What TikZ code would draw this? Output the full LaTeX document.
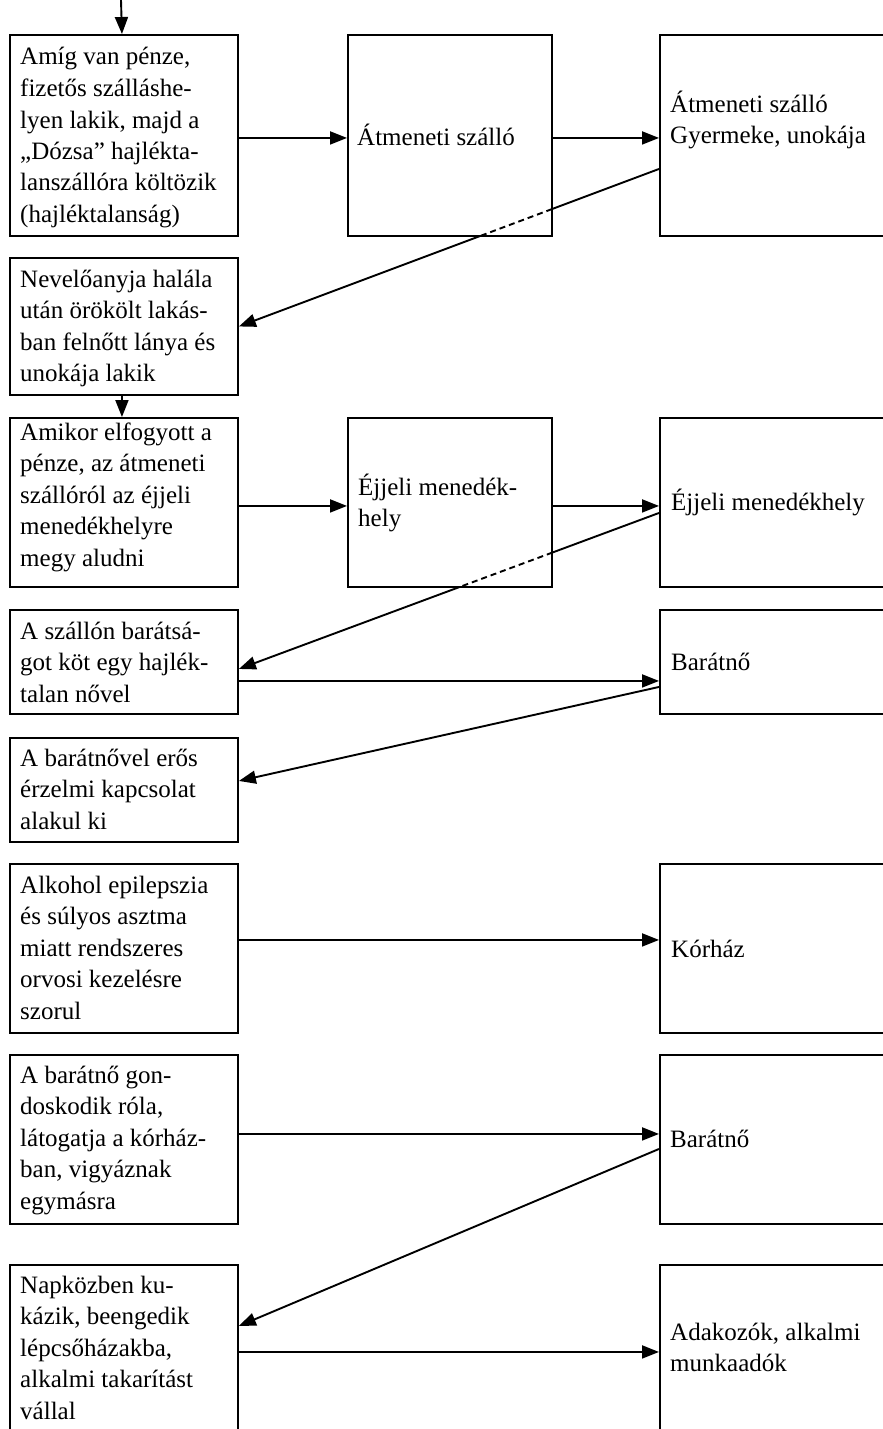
\documentclass[tikz,border=0pt]{standalone}
\usepackage{fontspec}
\setmainfont{Liberation Serif}
\usetikzlibrary{arrows.meta,calc}
% cell text: first baseline sits at the node's base anchor
\newcommand\celltext[1]{\parbox[t]{210pt}{\raggedright #1}}
\begin{document}
\begin{tikzpicture}[x=1pt,y=-1pt,
  box/.style={draw, line width=1.9pt, rectangle, anchor=north west, inner sep=0pt},
  lbox/.style={box, minimum width=228pt},
  mbox/.style={box, minimum width=204pt},
  rbox/.style={box, minimum width=260pt},
  txt/.style={anchor=base west, inner sep=0pt, font=\fontsize{25}{31.5}\selectfont},
  link/.style={line width=1.9pt},
  hidden/.style={link, dash pattern=on 6pt off 4pt},
  arr/.style={link, -{Triangle[length=17pt,width=13pt]}}
]
\useasboundingbox (0,0) rectangle (883,1429);
\clip (0,0) rectangle (883,1429);

% ---- boxes ----
\node[lbox, minimum height=201pt] (b1) at (9,34) {};
\node[mbox, minimum height=201pt] (m1) at (347,34) {};
\node[rbox, minimum height=201pt] (r1) at (659,34) {};
\node[lbox, minimum height=137pt] (b2) at (9,257) {};
\node[lbox, minimum height=169pt] (b3) at (9,417) {};
\node[mbox, minimum height=169pt] (m2) at (347,417) {};
\node[rbox, minimum height=169pt] (r2) at (659,417) {};
\node[lbox, minimum height=104pt] (b4) at (9,609) {};
\node[rbox, minimum height=104pt] (r3) at (659,609) {};
\node[lbox, minimum height=104pt] (b5) at (9,737) {};
\node[lbox, minimum height=169pt] (b6) at (9,863) {};
\node[rbox, minimum height=169pt] (r4) at (659,863) {};
\node[lbox, minimum height=169pt] (b7) at (9,1054) {};
\node[rbox, minimum height=169pt] (r5) at (659,1054) {};
\node[lbox, minimum height=169pt] (b8) at (9,1264) {};
\node[rbox, minimum height=169pt] (r6) at (659,1264) {};

% ---- texts ----
\node[txt] (t1) at (20,65) {\celltext{Amíg van pénze,\\fizetős szálláshe-\\lyen lakik, majd a\\„Dózsa” hajlékta-\\lanszállóra költözik\\(hajléktalanság)}};
\node[txt] (tm1) at (357,145) {\celltext{Átmeneti szálló}};
\node[txt] (tr1) at (670,112) {\celltext{Átmeneti szálló\\Gyermeke, unokája}};
\node[txt] (t2) at (20,287) {\celltext{Nevelőanyja halála\\után örökölt lakás-\\ban felnőtt lánya és\\unokája lakik}};
\node[txt] (t3) at (20,440) {\celltext{Amikor elfogyott a\\pénze, az átmeneti\\szállóról az éjjeli\\menedékhelyre\\megy aludni}};
\node[txt] (tm2) at (358,495) {\celltext{Éjjeli menedék-\\hely}};
\node[txt] (tr2) at (671,510) {\celltext{Éjjeli menedékhely}};
\node[txt] (t4) at (20,639) {\celltext{A szállón barátsá-\\got köt egy hajlék-\\talan nővel}};
\node[txt] (tr3) at (671,670) {\celltext{Barátnő}};
\node[txt] (t5) at (20,766) {\celltext{A barátnővel erős\\érzelmi kapcsolat\\alakul ki}};
\node[txt] (t6) at (20,893) {\celltext{Alkohol epilepszia\\és súlyos asztma\\miatt rendszeres\\orvosi kezelésre\\szorul}};
\node[txt] (tr4) at (671,957) {\celltext{Kórház}};
\node[txt] (t7) at (20,1083) {\celltext{A barátnő gon-\\doskodik róla,\\látogatja a kórház-\\ban, vigyáznak\\egymásra}};
\node[txt] (tr5) at (670,1147) {\celltext{Barátnő}};
\node[txt] (t8) at (20,1293) {\celltext{Napközben ku-\\kázik, beengedik\\lépcsőházakba,\\alkalmi takarítást\\vállal}};
\node[txt] (tr6) at (670,1340) {\celltext{Adakozók, alkalmi\\munkaadók}};

% ---- vertical arrows ----
\coordinate (start) at (121,0);
\draw[arr] (start) -- ([xshift=-2pt]b1.north);
\draw[arr] ([xshift=-2pt]b2.south) -- ([xshift=-2pt]b3.north);

% ---- horizontal arrows ----
\draw[arr] ([yshift=-2.5pt]b1.east) -- ([yshift=-2.5pt]m1.west);
\draw[arr] ([yshift=-2.5pt]m1.east) -- ([yshift=-2.5pt]r1.west);
\draw[arr] ([yshift=-3.5pt]b3.east) -- ([yshift=-3.5pt]m2.west);
\draw[arr] ([yshift=-3.5pt]m2.east) -- ([yshift=-3.5pt]r2.west);
\draw[arr] ([yshift=-19pt]b4.east) -- ([yshift=-19pt]r3.west);
\draw[arr] ([yshift=8.5pt]b6.east) -- ([yshift=8.5pt]r4.west);
\draw[arr] ([yshift=5.5pt]b7.east) -- ([yshift=5.5pt]r5.west);
\draw[arr] ([yshift=-2.5pt]b8.east) -- ([yshift=-2.5pt]r6.west);

% ---- return links (dashed where they pass behind a middle box) ----
\coordinate (d1s) at ([yshift=-33.5pt]r1.west);
\coordinate (d1e) at (b2.east);
\draw[link] (d1s) -- ($(d1s)!0.2547!(d1e)$);
\draw[hidden] ($(d1s)!0.2547!(d1e)$) -- ($(d1s)!0.4268!(d1e)$);
\draw[arr] ($(d1s)!0.4268!(d1e)$) -- (d1e);

\coordinate (d2s) at ([yshift=-10.5pt]r2.west);
\coordinate (d2e) at ([yshift=-7pt]b4.east);
\draw[link] (d2s) -- ($(d2s)!0.2536!(d2e)$);
\draw[hidden] ($(d2s)!0.2536!(d2e)$) -- ($(d2s)!0.4744!(d2e)$);
\draw[arr] ($(d2s)!0.4744!(d2e)$) -- (d2e);

\draw[arr] ([yshift=-25pt]r3.west) -- ([yshift=9pt]b5.east);
\draw[arr] ([yshift=-9.5pt]r5.west) -- ([yshift=23.5pt]b8.east);
\end{tikzpicture}
\end{document}
